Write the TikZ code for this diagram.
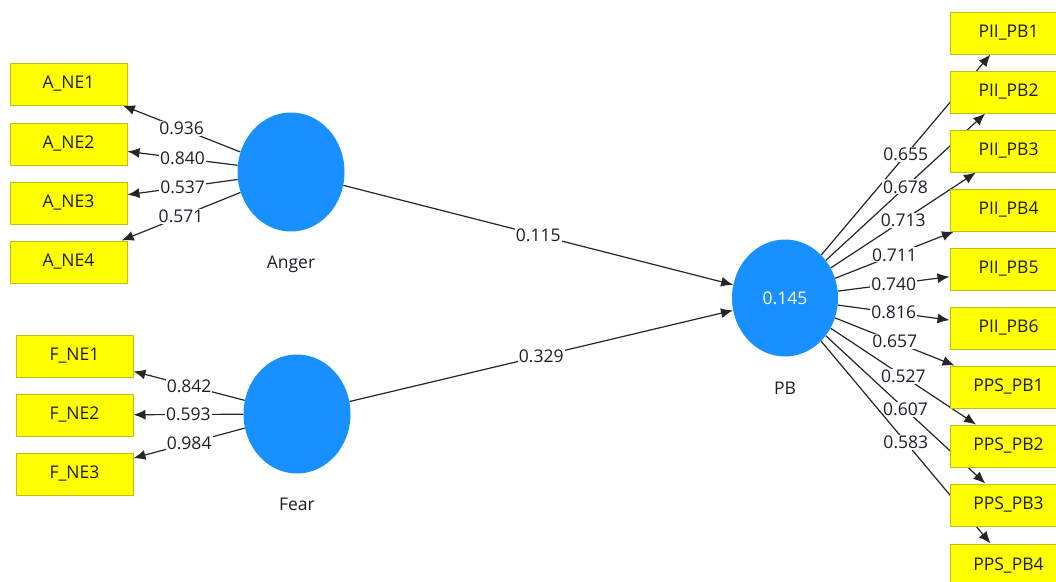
\documentclass[tikz,border=0pt]{standalone}
\usepackage{fontspec}
\setmainfont{Open Sans}
\usetikzlibrary{shapes.geometric,arrows.meta,backgrounds}
\definecolor{lvblue}{RGB}{24,144,255}
\definecolor{indyellow}{RGB}{255,255,0}
\definecolor{indborder}{RGB}{190,190,20}
\definecolor{txt}{RGB}{30,30,40}
\tikzset{
  ind/.style={draw=indborder, line width=1pt, fill=indyellow, minimum width=117pt, minimum height=42pt, inner sep=0pt, font=\fontsize{17.5}{20}\selectfont, text=txt},
  lv/.style={ellipse, fill=lvblue, draw=none, minimum width=107pt, minimum height=119pt, inner sep=0pt, font=\fontsize{17.5}{20}\selectfont, text=white},
  lvname/.style={font=\fontsize{17.5}{20}\selectfont, text=txt, inner sep=0pt},
  edge/.style={draw=black!85, line width=1.2pt, -{Latex[length=12pt,width=10pt]}},
  lbl/.style={fill=white, inner sep=1pt, font=\fontsize{17.5}{20}\selectfont, text=txt, pos=0.5}
}
\begin{document}
\begin{tikzpicture}[x=1pt,y=-1pt]
\clip (0,0) rectangle (1056,581);
% latent variables
\node[lv] (anger) at (291,172) {};
\node[lvname] (angerlbl) at (291,264) {Anger};
\node[lv] (fear) at (297,414) {};
\node[lvname] (fearlbl) at (297,504) {Fear};
\node[lv, minimum width=106pt, minimum height=117pt] (pb) at (785,298) {0.145};
\node[lvname] (pblbl) at (785,388) {PB};
% left indicators
\node[ind] (ane1) at (68.5,84) {A\_NE1};
\node[ind] (ane2) at (68.5,144) {A\_NE2};
\node[ind] (ane3) at (68.5,203) {A\_NE3};
\node[ind] (ane4) at (68.5,262) {A\_NE4};
\node[ind] (fne1) at (74.5,356) {F\_NE1};
\node[ind] (fne2) at (74.5,415) {F\_NE2};
\node[ind] (fne3) at (74.5,474) {F\_NE3};
% right indicators
\node[ind] (pii1) at (1008.5,33) {PII\_PB1};
\node[ind] (pii2) at (1008.5,92) {PII\_PB2};
\node[ind] (pii3) at (1008.5,151) {PII\_PB3};
\node[ind] (pii4) at (1008.5,210) {PII\_PB4};
\node[ind] (pii5) at (1008.5,269) {PII\_PB5};
\node[ind] (pii6) at (1008.5,328) {PII\_PB6};
\node[ind] (pps1) at (1008.5,387) {PPS\_PB1};
\node[ind] (pps2) at (1008.5,446) {PPS\_PB2};
\node[ind] (pps3) at (1008.5,505) {PPS\_PB3};
\node[ind] (pps4) at (1008.5,565) {PPS\_PB4};
\begin{scope}[on background layer]
\fill[white] (0,0) rectangle (1056,581);
\path[edge] (anger) -- node[lbl]{0.936} (ane1);
\path[edge] (anger) -- node[lbl]{0.840} (ane2);
\path[edge] (anger) -- node[lbl]{0.537} (ane3);
\path[edge] (anger) -- node[lbl]{0.571} (ane4);
\path[edge] (fear) -- node[lbl]{0.842} (fne1);
\path[edge] (fear) -- node[lbl]{0.593} (fne2);
\path[edge] (fear) -- node[lbl]{0.984} (fne3);
\path[edge] (anger) -- node[lbl]{0.115} (pb);
\path[edge] (fear) -- node[lbl]{0.329} (pb);
\path[edge] (pb) -- node[lbl]{0.655} (pii1);
\path[edge] (pb) -- node[lbl]{0.678} (pii2);
\path[edge] (pb) -- node[lbl]{0.713} (pii3);
\path[edge] (pb) -- node[lbl]{0.711} (pii4);
\path[edge] (pb) -- node[lbl]{0.740} (pii5);
\path[edge] (pb) -- node[lbl]{0.816} (pii6);
\path[edge] (pb) -- node[lbl]{0.657} (pps1);
\path[edge] (pb) -- node[lbl]{0.527} (pps2);
\path[edge] (pb) -- node[lbl]{0.607} (pps3);
\path[edge] (pb) -- node[lbl]{0.583} (pps4);
\end{scope}
\end{tikzpicture}
\end{document}
